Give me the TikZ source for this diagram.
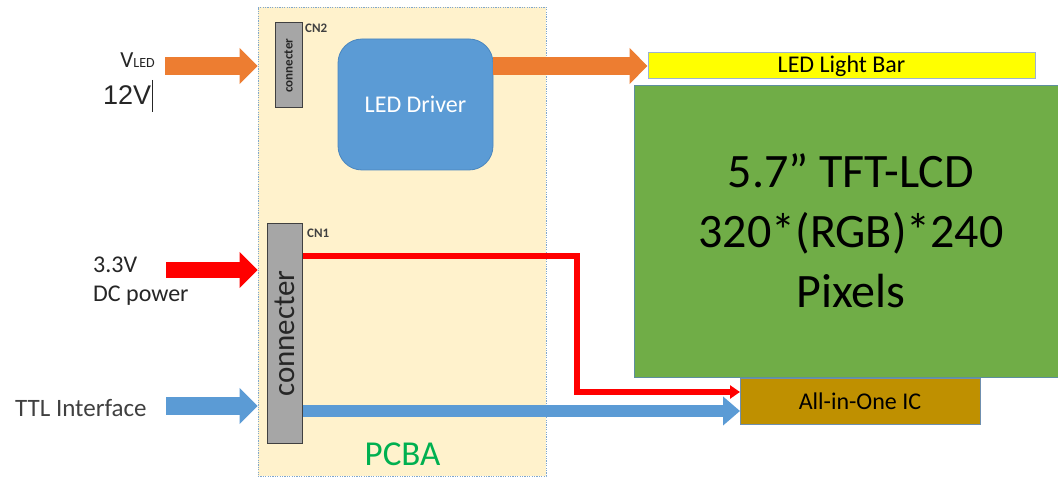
\documentclass[tikz,border=0pt]{standalone}
\usepackage{fontspec}
\setmainfont{Carlito}
\newfontfamily\arialfont{Liberation Sans}
\usetikzlibrary{arrows.meta}
\definecolor{pcbfill}{HTML}{FFF2CC}
\definecolor{pcbborder}{HTML}{7FA7CF}
\definecolor{congray}{HTML}{A6A6A6}
\definecolor{conborder}{HTML}{404040}
\definecolor{drvblue}{HTML}{5B9BD5}
\definecolor{drvborder}{HTML}{4A86BE}
\definecolor{orangec}{HTML}{ED7D31}
\definecolor{redc}{HTML}{FF0000}
\definecolor{bluec}{HTML}{5B9BD5}
\definecolor{lcdgreen}{HTML}{70AD47}
\definecolor{lcdborder}{HTML}{5E8F9E}
\definecolor{baryellow}{HTML}{FFFF00}
\definecolor{barborder}{HTML}{9DB3CF}
\definecolor{icgold}{HTML}{BF9000}
\definecolor{icborder}{HTML}{6F8FAF}
\definecolor{pcbagreen}{HTML}{00B050}
\definecolor{txt}{HTML}{262626}
\definecolor{txtgray}{HTML}{404040}
\tikzset{
  lbl/.style={font=\fontsize{24}{29}\selectfont, inner sep=0pt, text=txt},
  conbox/.style={draw=conborder, fill=congray, line width=1pt, inner sep=0pt, rectangle},
  cnlbl/.style={font=\fontsize{13}{15}\selectfont\bfseries, inner sep=0pt, text=txtgray},
  blockarrow/.style={line width=18pt, -{Triangle[length=18pt,width=35pt]}},
  lcdtext/.style={font=\fontsize{48}{60}\selectfont, inner sep=0pt, text=black, anchor=base},
}
\begin{document}
\begin{tikzpicture}[x=1pt,y=-1pt]
\useasboundingbox (0,0) rectangle (1058,478);
\fill[white] (0,0) rectangle (1058,478);

% PCBA board
\node[draw=pcbborder, fill=pcbfill, line width=0.8pt, dash pattern=on 1.2pt off 1.2pt,
      minimum width=288pt, minimum height=469pt, inner sep=0pt] (pcb) at (402,241.5) {};
\node[anchor=base, inner sep=0pt, text=pcbagreen, font=\fontsize{35}{40}\selectfont] (pcbalbl) at (402.5,465) {PCBA};

% connectors
\node[conbox, minimum width=27pt, minimum height=85pt] (cn2) at (288.5,65.5) {};
\node[rotate=90, inner sep=0pt, text=txt, font=\fontsize{13}{15}\selectfont\bfseries] (cn2t) at (cn2.center) {connecter};
\node[cnlbl, anchor=base west] (cn2lbl) at (305,33) {CN2};

\node[conbox, minimum width=35pt, minimum height=219pt] (cn1) at (284.5,333.5) {};
\node[rotate=90, inner sep=0pt, text=txt, font=\fontsize{31}{36}\selectfont] (cn1t) at (cn1.center) {connecter};
\node[cnlbl, anchor=base west] (cn1lbl) at (307,238) {CN1};

% LED driver
\node[draw=drvborder, fill=drvblue, line width=0.8pt, rounded corners=24pt,
      minimum width=155pt, minimum height=131pt, inner sep=0pt,
      text=white, font=\fontsize{24}{29}\selectfont] (drv) at (415.5,104.5) {LED Driver};

% LCD
\node[draw=lcdborder, fill=lcdgreen, line width=0.6pt, minimum width=424pt, minimum height=292pt, inner sep=0pt] (lcd) at (846,231) {};
\node[lcdtext] (lcd1) at (851,188) {5.7” TFT-LCD};
\node[lcdtext] (lcd2) at (851,248) {320*(RGB)*240};
\node[lcdtext] (lcd3) at (851,308) {Pixels};

% LED light bar
\node[draw=barborder, fill=baryellow, line width=1pt, minimum width=387pt, minimum height=26pt, inner sep=0pt,
      text=black, font=\fontsize{24}{29}\selectfont] (bar) at (841.5,66) {LED Light Bar};

% All-in-One IC
\node[draw=icborder, fill=icgold, line width=0.8pt, minimum width=240pt, minimum height=46pt, inner sep=0pt,
      text=black, font=\fontsize{24}{29}\selectfont] (ic) at (860,401) {All-in-One IC};

% input labels
\node[anchor=base east, inner sep=0pt, text=txt] (vled) at (155,68) {\fontsize{23}{27}\selectfont V\fontsize{14}{17}\selectfont LED};
\node[anchor=base west, inner sep=0pt, text=txt, font=\arialfont\fontsize{27}{31}\selectfont] (v12) at (103,105) {12V};
\coordinate (cur1) at (152,80);
\coordinate (cur2) at (152,112);
\draw[txt, line width=1pt] (cur1) -- (cur2);

\node[lbl, anchor=base west] (v33) at (93,273) {3.3V};
\node[lbl, anchor=base west] (dcp) at (93,302) {DC power};
\node[lbl, anchor=base west, text=txtgray, font=\fontsize{25}{30}\selectfont] (ttl) at (15,416) {TTL Interface};

% input arrows
\coordinate (oin) at (165,66);
\coordinate (rin) at (166,270);
\coordinate (bin) at (166,406);
\draw[blockarrow, orangec] (oin) -- (pcb.west |- oin);
\draw[blockarrow, redc, line width=16pt] (rin) -- (pcb.west |- rin);
\draw[blockarrow, bluec] (bin) -- (pcb.west |- bin);

% driver to light bar
\draw[blockarrow, orangec] (drv.east |- bar.west) -- (bar.west);

% red power line to IC
\coordinate (r1) at (577,256);
\coordinate (r2) at (740,392);
\draw[redc, line width=6pt, line join=miter, -{Triangle[length=10pt,width=13pt]}] (cn1.east |- r1) -- (r1) |- (r2);

% blue TTL line to IC
\coordinate (b2) at (740,411);
\draw[bluec, line width=12pt, -{Triangle[length=17pt,width=28pt]}] (cn1.east |- b2) -- (b2);
\end{tikzpicture}
\end{document}
